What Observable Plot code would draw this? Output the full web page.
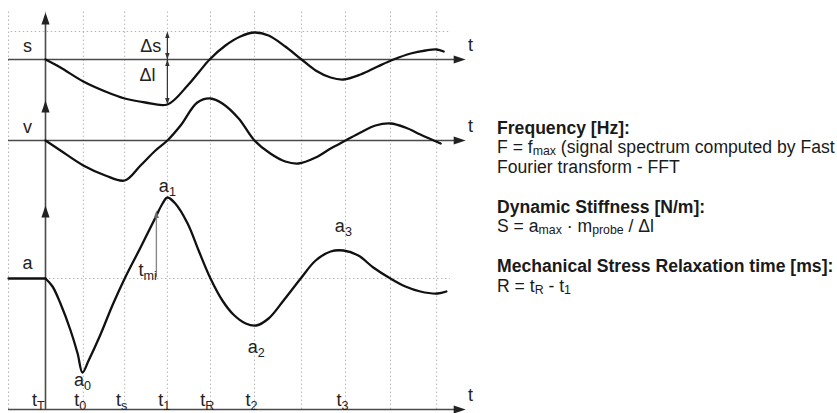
<!DOCTYPE html>
<html>
<head>
<meta charset="utf-8">
<script src="https://cdn.jsdelivr.net/npm/d3@7"></script>
<script src="https://cdn.jsdelivr.net/npm/@observablehq/plot@0.6"></script>
<style>
  html, body { margin: 0; padding: 0; background: #fff; }
  #wrap { position: relative; width: 837px; height: 413px; overflow: hidden; background: #fff; }
  #wrap svg { position: absolute; left: 0; top: 0; }
  #info { position: absolute; left: 497px; top: 118.5px; font-family: "Liberation Sans", Arial, sans-serif;
          font-size: 17.6px; line-height: 19.5px; color: #1a1a1a; white-space: nowrap; }
  #info .h { font-weight: bold; }
  #info .gap { margin-top: 20.5px; }
  #info sub { font-size: 0.7em; vertical-align: -0.18em; line-height: 0; }
</style>
</head>
<body>
<div id="wrap"><div id="info"></div></div>
<script>
// ---- time grid and events (ms) ----
const gridTimes = [-8.4, 0, 8.6, 18.0, 27.7, 37.5, 47.5, 58.2, 68.2, 78.4, 88.9];
const eventNames = ["t_T", "t_0", "t_s", "t_1", "t_R", "t_2", "t_3"];
const eventTimes = [0, 8.6, 18.0, 27.7, 37.5, 47.5, 68.2];

// ---- panel baselines (diagram units, time axis = 0) ----
const panelNames = ["s", "v", "a"];
const panelBase = [350, 269, 131];
const topLevel = 378;   // dotted level of the s peak
const axisTop = 397;

// ---- signals: displacement s, velocity v, acceleration a ----
const sT = [0, 3.4, 8.6, 13.6, 18.0, 22.7, 27.7, 32.3, 34.8, 37.3, 40.9, 44.3, 47.5, 50.7, 54.5, 58.2, 61.4, 64.8, 67.7, 71.6, 75.5, 79.1, 83.0, 86.4, 88.9, 90.5];
const sV = [0, -8, -22, -32, -39, -43, -45, -26, -13, 0, 14, 23, 27, 24, 13, 0, -11, -18, -20, -15, -7, 0, 6, 9, 10, 8];

const vT = [0, 3.4, 8.6, 13.6, 18.0, 21.6, 25.0, 27.7, 30.7, 34.5, 37.5, 40.2, 43.9, 47.5, 51.1, 54.5, 57.5, 61.4, 64.8, 68.2, 71.6, 75.0, 78.4, 81.8, 85.2, 89.8];
const vV = [0, -10, -25, -35, -40, -25, -10, 0, 15, 38, 42, 37, 22, 0, -13, -21, -23, -17, -8, 0, 8, 15, 17, 13, 6, -3];

const aFlatT = [-8.4, 0];
const aT = [0, 1.6, 3.4, 5.7, 7.3, 8.4, 9.8, 12.5, 15.2, 18.0, 21.6, 25.0, 26.6, 27.7, 29.5, 32.3, 34.8, 37.5, 40.2, 42.7, 45.5, 47.9, 50.7, 54.1, 58.0, 61.4, 64.8, 67.7, 71.1, 74.5, 78.4, 81.8, 85.2, 89.1, 91.1];
const aV = [0, -8, -25, -52, -75, -94, -82, -56, -27, 0, 31, 61, 75, 81, 75, 55, 28, 0, -22, -36, -45, -47, -40, -22, 0, 18, 27, 28, 23, 11, 0, -8, -13, -15, -13];

// ---- peaks of a ----
const peakNames = ["a_0", "a_1", "a_2", "a_3"];
const peakT = [8.4, 27.7, 47.9, 67.7];
const peakV = [-94, 81, -47, 28];
const peakLift = [-8, 11, -22, 24];   // label distance from the peak

// ---- deflections ----
const deltaS = 28;   // s peak above baseline
const deltaL = 45;   // s dip below baseline
const tmiT = 25.2;

// ---- right-hand text ----
const infoLines = [
  { cls: "h", html: "Frequency [Hz]:" },
  { cls: "", html: "F = f<sub>max</sub> (signal spectrum computed by Fast" },
  { cls: "", html: "Fourier transform - FFT" },
  { cls: "h gap", html: "Dynamic Stiffness [N/m]:" },
  { cls: "", html: "S = a<sub>max</sub> · m<sub>probe</sub> / Δl" },
  { cls: "h gap", html: "Mechanical Stress Relaxation time [ms]:" },
  { cls: "", html: "R = t<sub>R</sub> - t<sub>1</sub>" }
];

// ---- build rows ----
const zip = (T, V, base) => T.map((t, i) => ({ t, y: base + V[i] }));
const sRows = zip(sT, sV, panelBase[0]);
const vRows = zip(vT, vV, panelBase[1]);
const aRows = zip(aT, aV, panelBase[2]);
const aFlatRows = aFlatT.map(t => ({ t, y: panelBase[2] }));
const tEnd = 95.5, tStart = -8.4, dotEnd = 92;

const panelLabels = panelNames.map((n, i) => ({ text: n, t: -4.1, y: panelBase[i] + (i === 2 ? 15 : 13) }));
const tLabels = [panelBase[0], panelBase[1], 0].map(b => ({ text: "t", t: 96.6, y: b + 14 }));
const peakLabels = peakNames.map((n, i) => ({ text: n, t: peakT[i], y: panelBase[2] + peakV[i] + peakLift[i] }));
const eventLabels = eventNames.map((n, i) => ({ text: n, t: eventTimes[i] - (i === 0 ? 1.6 : 0.7), y: 9 }));
const deltaLabels = [{ text: "Δs", t: 23.9, y: panelBase[0] + 13 }, { text: "Δl", t: 23.2, y: panelBase[0] - 16 }];
const tmiLabels = [{ text: "t_mi", t: tmiT - 2.0, y: panelBase[2] + 8 }];
const allLabels = [...panelLabels, ...tLabels, ...peakLabels, ...eventLabels, ...deltaLabels, ...tmiLabels];

function head(dir) {
  return { draw(ctx, size) {
    const r = Math.sqrt(size / Math.PI), L = 2 * r, w = 0.68 * r;
    const pts = { up: [[0,0],[-w,L],[w,L]], down: [[0,0],[-w,-L],[w,-L]], right: [[0,0],[-L,-w],[-L,w]] }[dir];
    ctx.moveTo(pts[0][0], pts[0][1]); ctx.lineTo(pts[1][0], pts[1][1]); ctx.lineTo(pts[2][0], pts[2][1]); ctx.closePath();
  }};
}

const axisColor = "#4a4a4a", gridColor = "#b5b5b5", ink = "#111";
const fontSize = 18;

const chart = Plot.plot({
  width: 837, height: 413, margin: 0,
  x: { domain: [-10.227, 180], axis: null },
  y: { domain: [-4, 409], axis: null },
  style: { background: "transparent", fontFamily: "Liberation Sans, Arial, sans-serif" },
  marks: [
    // dotted grid
    Plot.ruleX(gridTimes, { y1: 0, y2: 399, stroke: gridColor, strokeWidth: 1, strokeDasharray: "1.5,2.5" }),
    Plot.ruleY([topLevel], { x1: -7.8, x2: dotEnd, stroke: gridColor, strokeDasharray: "1.5,2.5" }),
    Plot.ruleY([panelBase[2]], { x1: 0, x2: dotEnd, stroke: gridColor, strokeDasharray: "1.5,2.5" }),
    // axes
    Plot.ruleY([panelBase[0], panelBase[1], 0], { x1: tStart, x2: tEnd - 1.5, stroke: axisColor, strokeWidth: 1.6 }),
    Plot.ruleX([0], { y1: 0, y2: axisTop - 4, stroke: axisColor, strokeWidth: 1.6 }),
    Plot.dot([axisTop, panelBase[1] + 40, panelBase[2] + 73], { x: () => 0, y: d => d, symbol: head("up"), r: 6, fill: "#222", stroke: "none" }),
    Plot.dot([panelBase[0], panelBase[1], 0], { x: () => tEnd, y: d => d, symbol: head("right"), r: 6, fill: "#222", stroke: "none" }),
    // signals
    Plot.line(sRows, { x: "t", y: "y", curve: "catmull-rom", stroke: ink, strokeWidth: 2.3 }),
    Plot.line(vRows, { x: "t", y: "y", curve: "catmull-rom", stroke: ink, strokeWidth: 2.3 }),
    Plot.line(aFlatRows, { x: "t", y: "y", stroke: ink, strokeWidth: 2.3 }),
    Plot.line(aRows, { x: "t", y: "y", curve: "catmull-rom", stroke: ink, strokeWidth: 2.3 }),
    // Δs / Δl arrows
    Plot.ruleX([eventTimes[3]], { y1: panelBase[0] - deltaL + 3, y2: topLevel - 3, stroke: "#333", strokeWidth: 1.2 }),
    Plot.dot([topLevel, panelBase[0]], { x: () => eventTimes[3], y: d => d, symbol: head("up"), r: 3.3, fill: "#333", stroke: "none" }),
    Plot.dot([panelBase[0], panelBase[0] - deltaL], { x: () => eventTimes[3], y: d => d, symbol: head("down"), r: 3.3, fill: "#333", stroke: "none" }),
    // t_mi arrow
    Plot.ruleX([tmiT], { y1: panelBase[2] + 1, y2: panelBase[2] + 62, stroke: "#8a8a8a", strokeWidth: 1.4 }),
    Plot.dot([panelBase[2] + 68], { x: () => tmiT, y: d => d, symbol: head("up"), r: 3.8, fill: "#6a6a6a", stroke: "none" }),
    // labels
    Plot.text(allLabels, { x: "t", y: "y", text: "text", fontSize, fill: "#222" })
  ]
});

// subscripts
chart.querySelectorAll("text").forEach(el => {
  const s = el.textContent; const i = s.indexOf("_");
  if (i < 0) return;
  el.textContent = s.slice(0, i);
  const ts = document.createElementNS("http://www.w3.org/2000/svg", "tspan");
  ts.setAttribute("font-size", "70%");
  ts.setAttribute("dy", "0.3em");
  ts.textContent = s.slice(i + 1);
  el.appendChild(ts);
});

const wrap = document.getElementById("wrap");
wrap.insertBefore(chart, wrap.firstChild);
document.getElementById("info").innerHTML = infoLines.map(l => `<div class="${l.cls}">${l.html}</div>`).join("");
</script>
</body>
</html>
